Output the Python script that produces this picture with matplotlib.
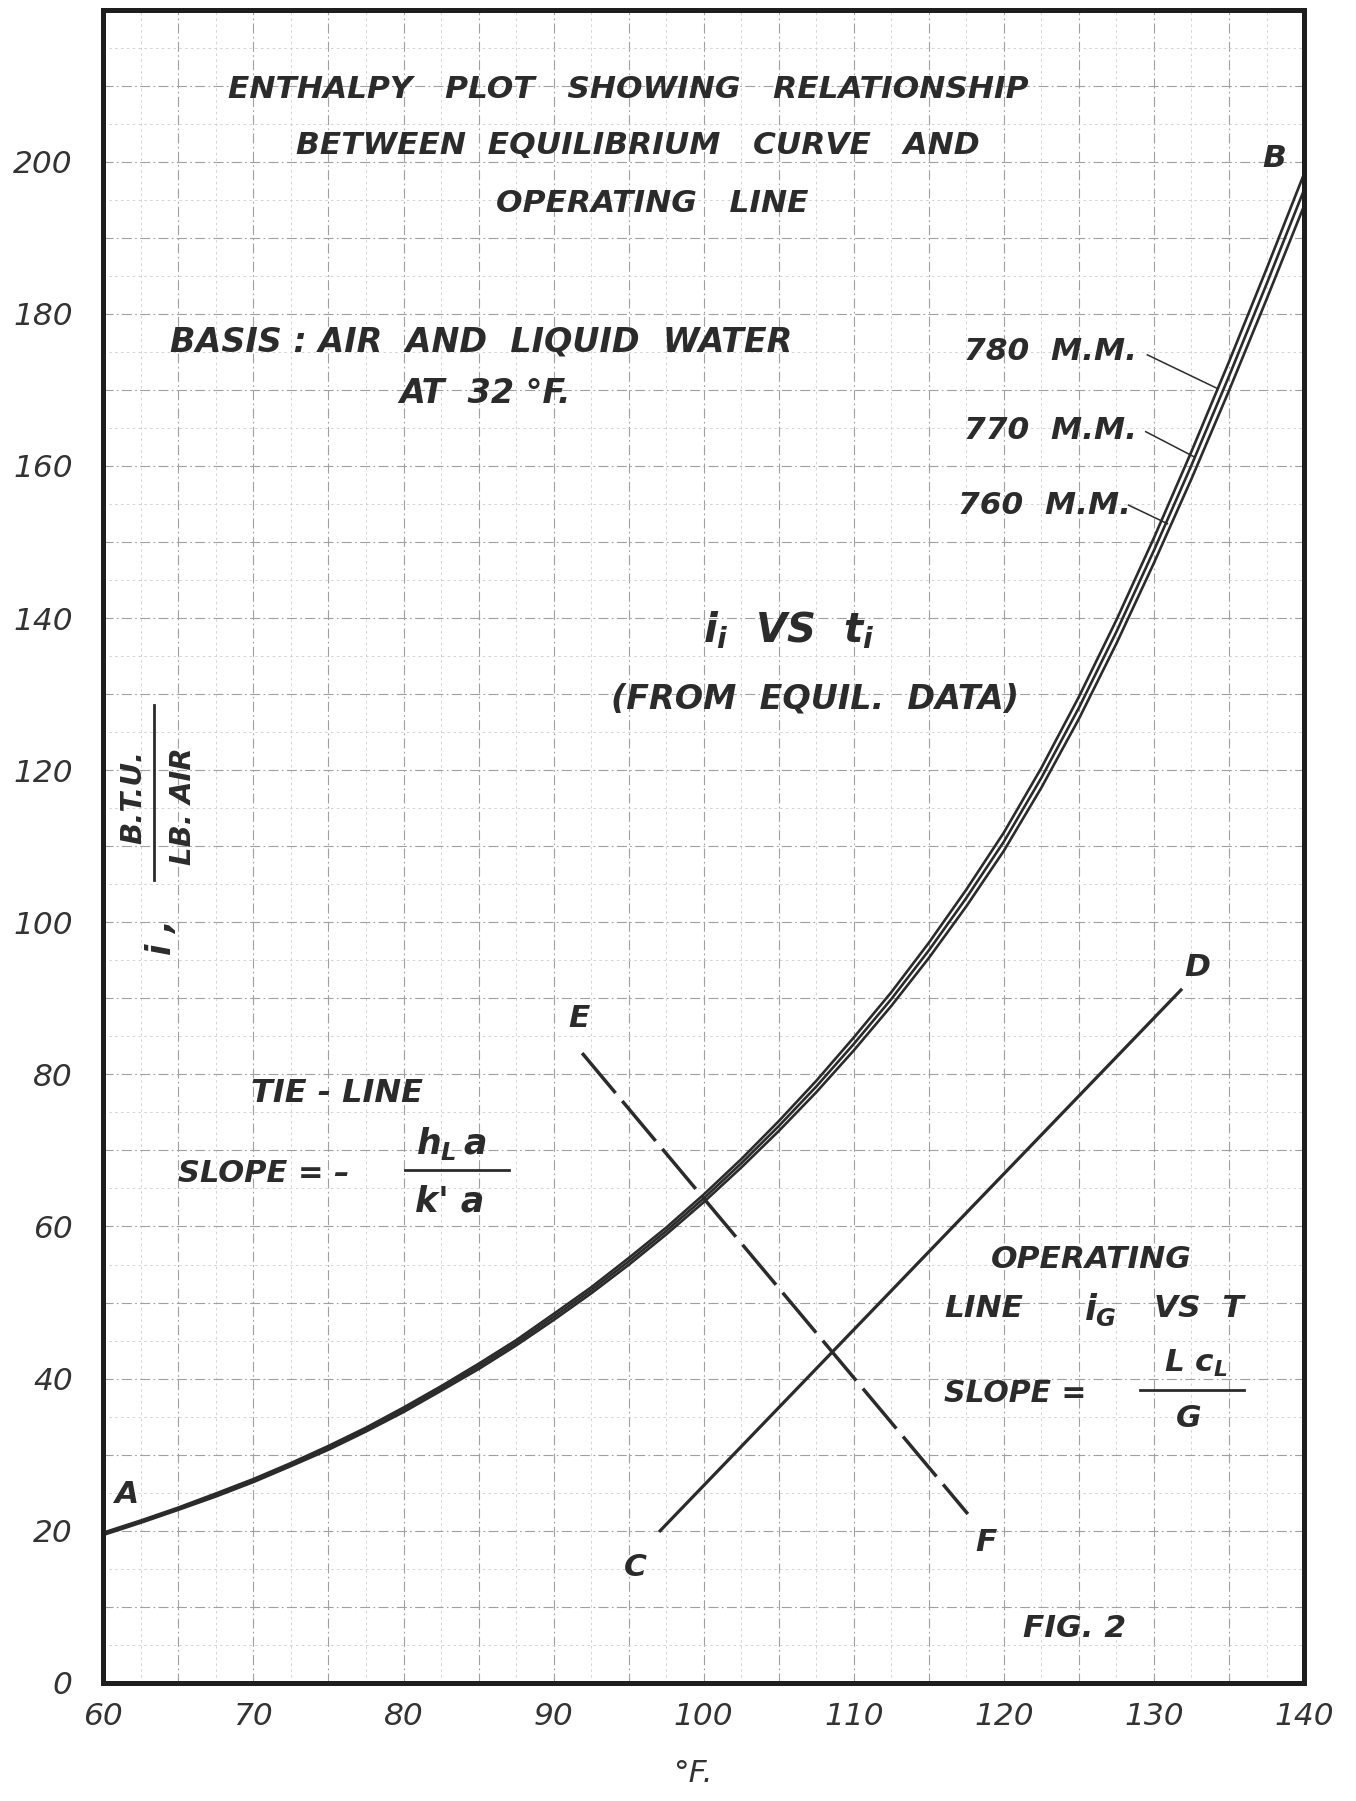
import numpy as np
import matplotlib.pyplot as plt

plt.rcParams['font.family'] = ['DejaVu Sans']
plt.rcParams['font.style'] = 'oblique'
plt.rcParams['mathtext.fontset'] = 'custom'
plt.rcParams['mathtext.it'] = 'DejaVu Sans:italic:bold'
plt.rcParams['mathtext.rm'] = 'DejaVu Sans:bold'

# saturation enthalpy curves, BTU/lb dry air (basis air & liquid water at 32 F)
temps = [60, 62.5, 65, 67.5, 70, 72.5, 75, 77.5, 80, 82.5, 85, 87.5, 90, 92.5,
         95, 97.5, 100, 102.5, 105, 107.5, 110, 112.5, 115, 117.5, 120, 122.5,
         125, 127.5, 130, 132.5, 135, 137.5, 140]
i_760 = [19.75, 21.35, 23.05, 24.9, 26.8, 28.9, 31.15, 33.55, 36.2, 39.0, 41.95,
         45.05, 48.5, 52.0, 55.85, 59.85, 64.2, 68.85, 73.85, 79.15, 84.85, 90.8,
         97.3, 104.3, 111.8, 120.3, 129.65, 139.75, 150.55, 161.9, 173.7, 185.9, 198.4]
i_770 = [19.6, 21.2, 22.9, 24.7, 26.6, 28.7, 30.9, 33.3, 35.9, 38.7, 41.6, 44.7,
         48.1, 51.6, 55.4, 59.4, 63.7, 68.3, 73.2, 78.4, 84.0, 89.9, 96.3, 103.2,
         110.6, 119.0, 128.2, 138.2, 148.9, 160.1, 171.8, 183.9, 196.3]
i_780 = [19.45, 21.05, 22.75, 24.5, 26.4, 28.5, 30.65, 33.05, 35.6, 38.4, 41.25,
         44.35, 47.7, 51.2, 54.95, 58.95, 63.2, 67.75, 72.55, 77.65, 83.15, 89.0,
         95.3, 102.1, 109.4, 117.7, 126.75, 136.65, 147.25, 158.3, 169.9, 181.9, 194.2]

# operating line C-D and tie line E-F
op_t = [97.1, 131.8]
op_i = [20.0, 91.1]
tie_t = [91.9, 117.6]
tie_i = [82.8, 22.2]

x_ticks = [60, 70, 80, 90, 100, 110, 120, 130, 140]
y_ticks = [0, 20, 40, 60, 80, 100, 120, 140, 160, 180, 200]

ink = '#2b2b2b'
big = 22.5

fig = plt.figure(figsize=(13.56, 18.01), dpi=100)
ax = fig.add_axes([0.0762, 0.0656, 0.8855, 0.9291])
ax.set_xlim(60, 140)
ax.set_ylim(0, 220)

# graph paper
for x in np.arange(62.5, 140, 2.5):
    if x % 5 == 0:
        ax.axvline(x, color='#a0a0a0', lw=0.8, ls=(0, (9, 3, 1.5, 3)), zorder=0)
    else:
        ax.axvline(x, color='#cccccc', lw=0.6, ls=(0, (3, 4)), zorder=0)
for y in np.arange(5, 220, 5):
    if y % 10 == 0:
        ax.axhline(y, color='#a0a0a0', lw=0.8, ls=(0, (9, 3, 1.5, 3)), zorder=0)
    else:
        ax.axhline(y, color='#cccccc', lw=0.6, ls=(0, (3, 4)), zorder=0)

for s in ax.spines.values():
    s.set_linewidth(3.6)
    s.set_color('#1e1e1e')

# curves
for vals in (i_760, i_770, i_780):
    ax.plot(temps, vals, color=ink, lw=1.9, solid_capstyle='round')
ax.plot(op_t, op_i, color=ink, lw=2.3)
ax.plot(tie_t, tie_i, color=ink, lw=2.5, ls=(0, (15, 3)))

ax.set_xticks(x_ticks)
ax.set_yticks(y_ticks)
ax.tick_params(length=0, labelsize=big, labelcolor='#333333')
ax.tick_params(axis='y', pad=22)
ax.tick_params(axis='x', pad=14)
fig.text(0.5106, 0.015, '°F.', fontsize=big, color='#333333', ha='center', va='center')

kw = dict(color=ink, ha='center', va='center', fontweight='bold')
kl = dict(color=ink, ha='left', va='center', fontweight='bold')

# title block
ax.text(95.0, 209.5, 'ENTHALPY   PLOT   SHOWING   RELATIONSHIP', fontsize=22.5, **kw)
ax.text(95.6, 202.1, 'BETWEEN  EQUILIBRIUM   CURVE   AND', fontsize=22.5, **kw)
ax.text(96.6, 194.5, 'OPERATING   LINE', fontsize=22.5, **kw)

ax.text(85.2, 176.3, 'BASIS : AIR  AND  LIQUID  WATER', fontsize=24, **kw)
ax.text(85.4, 169.5, 'AT  32 °F.', fontsize=24, **kw)

# pressure labels with pointers
labels = [('780  M.M.', 123.1, 175.0, (129.56, 174.6), (134.2, 170.2)),
          ('770  M.M.', 123.1, 164.6, (129.45, 164.5), (132.67, 161.2)),
          ('760  M.M.', 122.7, 154.8, (128.3, 154.85), (130.9, 152.4))]
for txt, tx, ty, p0, p1 in labels:
    ax.text(tx, ty, txt, fontsize=big, **kw)
    ax.plot([p0[0], p1[0]], [p0[1], p1[1]], color=ink, lw=1.1)

# point letters
for lt, lx, ly in [('A', 61.5, 24.8), ('B', 138.0, 200.4), ('C', 95.45, 15.2),
                   ('D', 132.9, 94.0), ('E', 91.7, 87.4), ('F', 118.8, 18.5)]:
    ax.text(lx, ly, lt, fontsize=big, **kw)
ax.text(124.7, 7.2, 'FIG. 2', fontsize=big, **kw)

ax.text(105.7, 138.4, r'$i_i$  VS  $t_i$', fontsize=29, **kw)
ax.text(107.4, 129.4, '(FROM  EQUIL.  DATA)', fontsize=24, **kw)

# tie line note
ax.text(75.6, 77.5, 'TIE - LINE', fontsize=23, **kw)
ax.text(65.0, 67.0, 'SLOPE = \u2013', fontsize=22, **kl)
ax.plot([80.1, 87.0], [67.4, 67.4], color=ink, lw=2.0)
ax.text(83.2, 70.9, r'$h_L\,a$', fontsize=25, **kw)
ax.text(83.1, 63.3, "k' a", fontsize=25, **kw)

# operating line note
ax.text(125.8, 55.6, 'OPERATING', fontsize=big, **kw)
ax.text(116.0, 49.2, 'LINE', fontsize=big, **kl)
ax.text(126.4, 49.0, r'$i_G$', fontsize=25, **kw)
ax.text(130.0, 49.2, 'VS  T', fontsize=big, **kl)
ax.text(116.0, 38.1, 'SLOPE =', fontsize=21.5, **kl)
ax.plot([129.1, 136.0], [38.5, 38.5], color=ink, lw=2.0)
ax.text(132.8, 42.0, r'$L\ c_L$', fontsize=big, **kw)
ax.text(132.3, 34.8, 'G', fontsize=big, **kw)

# y-axis quantity, written inside the frame
ax.text(62.0, 116.5, 'B.T.U.', fontsize=21, rotation=90, **kw)
ax.plot([63.38, 63.38], [105.5, 128.6], color=ink, lw=2.0)
ax.text(65.3, 115.3, 'LB. AIR', fontsize=21, rotation=90, **kw)
ax.text(63.9, 98.0, 'i ,', fontsize=24, rotation=90, **kw)

fig.savefig('out.png', dpi=100)
